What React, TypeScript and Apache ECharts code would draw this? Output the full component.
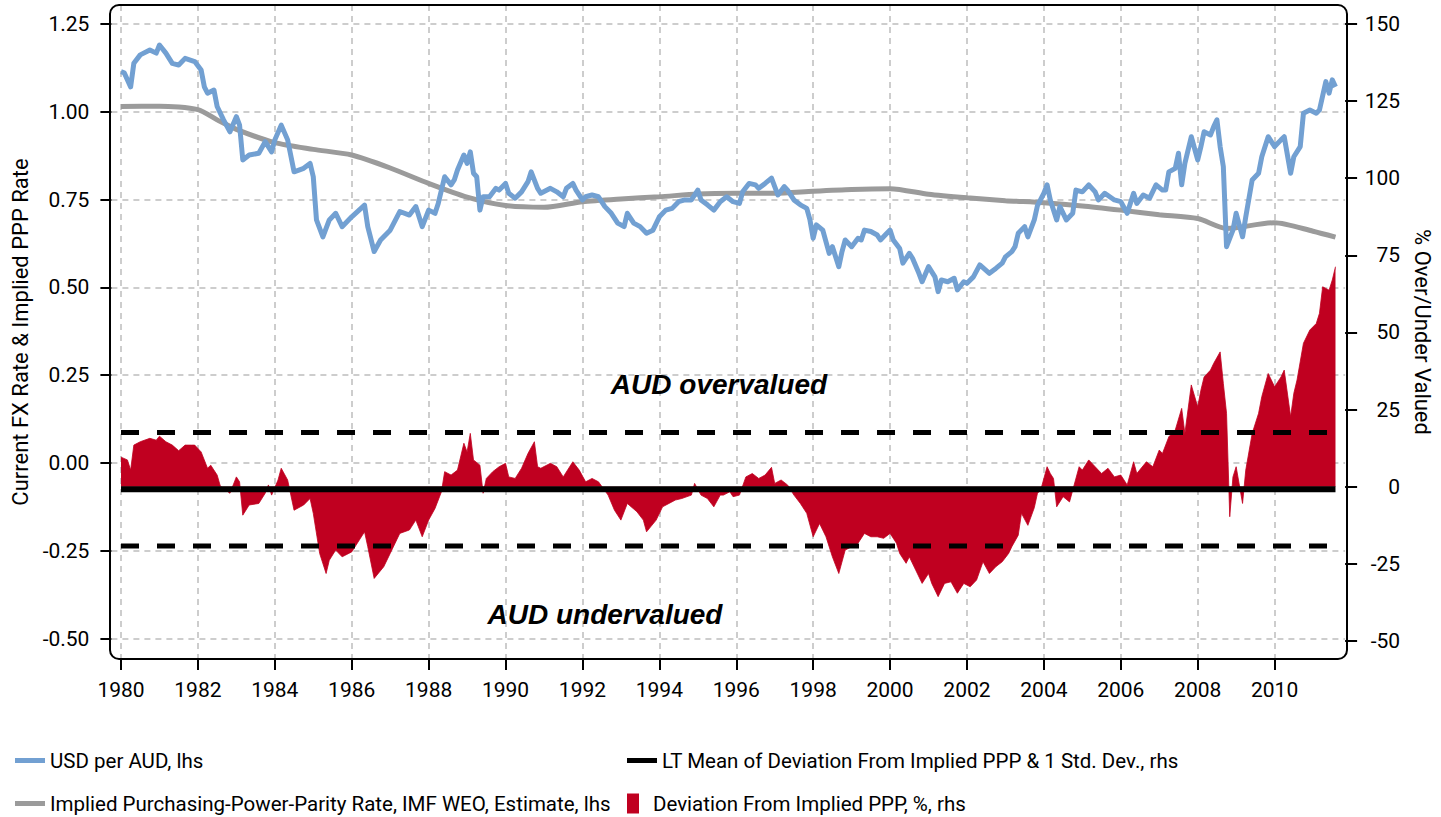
import React, { useEffect, useRef } from "react";
import * as echarts from "echarts";

// ---------- axis set-up (monthly category axis, Oct 1979 .. Nov 2011) ----------
const AXIS_START_YEAR = 1979;
const AXIS_START_MONTH = 10;
const AXIS_END_YEAR = 2011;
const AXIS_END_MONTH = 11;
const LEAD = 3; // months between axis start and Jan 1980

const months: string[] = [];
{
  let y = AXIS_START_YEAR;
  let m = AXIS_START_MONTH;
  while (y < AXIS_END_YEAR || (y === AXIS_END_YEAR && m <= AXIS_END_MONTH)) {
    months.push(`${y}-${String(m).padStart(2, "0")}`);
    m += 1;
    if (m > 12) { m = 1; y += 1; }
  }
}

const leftTicks = [-0.5, -0.25, 0, 0.25, 0.5, 0.75, 1.0, 1.25];
const rightTicks = [-50, -25, 0, 25, 50, 75, 100, 125, 150];

// ---------- data: [months since Jan 1980, value] ----------
const usdPerAud: [number, number][] = [
  [0, 1.114], [1, 1.111], [3, 1.071], [4, 1.138], [6, 1.162], [9, 1.176], [11, 1.167], [12, 1.19],
  [14, 1.167], [16, 1.138], [18, 1.133], [20, 1.152], [23, 1.143], [25, 1.119], [26, 1.071], [27, 1.053],
  [29, 1.062], [30, 1.015], [32, 0.977], [34, 0.943], [36, 0.986], [37, 0.962], [38, 0.863], [40, 0.877],
  [43, 0.882], [45, 0.915], [47, 0.886], [48, 0.92], [50, 0.962], [52, 0.92], [54, 0.829], [57, 0.839],
  [59, 0.853], [60, 0.815], [61, 0.692], [63, 0.644], [65, 0.692], [67, 0.711], [69, 0.673], [72, 0.701],
  [76, 0.734], [77, 0.673], [79, 0.602], [81, 0.635], [84, 0.663], [87, 0.716], [90, 0.706], [92, 0.73],
  [94, 0.673], [96, 0.72], [98, 0.711], [99, 0.739], [101, 0.815], [103, 0.792], [104, 0.806], [105, 0.834],
  [107, 0.877], [108, 0.853], [109, 0.886], [110, 0.825], [111, 0.815], [112, 0.72], [113, 0.758], [115, 0.758],
  [117, 0.782], [118, 0.777], [120, 0.796], [121, 0.768], [123, 0.754], [125, 0.772], [127, 0.801], [128, 0.829],
  [130, 0.782], [131, 0.768], [134, 0.782], [136, 0.772], [138, 0.758], [139, 0.782], [141, 0.796], [142, 0.777],
  [144, 0.749], [145, 0.758], [147, 0.763], [149, 0.758], [151, 0.73], [153, 0.711], [155, 0.683], [157, 0.673],
  [158, 0.711], [160, 0.683], [162, 0.673], [164, 0.654], [166, 0.663], [168, 0.701], [170, 0.72], [172, 0.725],
  [174, 0.744], [176, 0.749], [178, 0.749], [180, 0.777], [181, 0.749], [183, 0.735], [185, 0.72], [187, 0.744],
  [189, 0.758], [191, 0.744], [193, 0.739], [194, 0.772], [196, 0.796], [198, 0.792], [199, 0.782], [201, 0.796],
  [203, 0.811], [204, 0.787], [205, 0.763], [207, 0.787], [208, 0.777], [210, 0.749], [212, 0.735], [214, 0.725],
  [215, 0.692], [216, 0.64], [217, 0.678], [219, 0.663], [221, 0.597], [222, 0.616], [224, 0.559], [225, 0.602],
  [226, 0.635], [228, 0.616], [230, 0.64], [231, 0.635], [232, 0.663], [234, 0.659], [236, 0.649], [237, 0.635],
  [239, 0.654], [240, 0.663], [241, 0.635], [243, 0.611], [244, 0.569], [246, 0.597], [247, 0.583], [249, 0.54],
  [250, 0.516], [252, 0.559], [254, 0.53], [255, 0.488], [256, 0.521], [258, 0.516], [260, 0.526], [261, 0.493],
  [263, 0.516], [264, 0.512], [266, 0.53], [268, 0.564], [271, 0.54], [273, 0.554], [275, 0.569], [276, 0.587],
  [278, 0.602], [279, 0.616], [280, 0.654], [282, 0.673], [283, 0.644], [285, 0.692], [286, 0.733], [288, 0.768],
  [289, 0.792], [290, 0.749], [292, 0.692], [293, 0.73], [295, 0.692], [297, 0.711], [298, 0.777], [300, 0.772],
  [302, 0.792], [304, 0.772], [305, 0.749], [307, 0.768], [310, 0.749], [312, 0.744], [314, 0.711], [316, 0.768],
  [317, 0.739], [319, 0.763], [321, 0.754], [323, 0.792], [325, 0.777], [326, 0.777], [327, 0.829], [329, 0.839],
  [330, 0.882], [331, 0.792], [332, 0.853], [334, 0.929], [336, 0.863], [337, 0.901], [338, 0.943], [340, 0.934],
  [341, 0.958], [342, 0.977], [343, 0.901], [344, 0.844], [345, 0.616], [347, 0.663], [348, 0.711], [350, 0.644],
  [351, 0.701], [353, 0.806], [355, 0.825], [356, 0.872], [358, 0.929], [360, 0.901], [362, 0.92], [363, 0.929],
  [365, 0.825], [366, 0.872], [368, 0.901], [369, 0.996], [371, 1.005], [373, 0.996], [374, 1.005], [376, 1.086],
  [377, 1.053], [378, 1.091], [379, 1.071],
];

const impliedPpp: [number, number][] = [
  [0, 1.015], [12, 1.016], [24, 1.006], [30, 0.977], [36, 0.95], [48, 0.912], [60, 0.893], [72, 0.877],
  [84, 0.84], [96, 0.796], [108, 0.757], [120, 0.733], [132, 0.728], [144, 0.744], [156, 0.752], [168, 0.758],
  [180, 0.766], [192, 0.768], [204, 0.768], [216, 0.774], [228, 0.779], [240, 0.781], [252, 0.765], [264, 0.755],
  [276, 0.747], [288, 0.741], [300, 0.732], [312, 0.72], [324, 0.707], [336, 0.696], [345, 0.668], [348, 0.67],
  [360, 0.684], [372, 0.66], [379, 0.643],
];

const deviationPct: [number, number][] = [
  [0, 9.6], [2, 8.7], [3, 5.4], [4, 13.5], [6, 14.6], [9, 15.7], [11, 15.1], [12, 16.4], [14, 14.6], [16, 13.5],
  [18, 11.7], [20, 13.5], [22, 13.5], [23, 13.5], [25, 11.3], [27, 6.0], [28, 7.0], [30, 3.8], [31, 0.2], [34, -2.1],
  [36, 3.2], [37, 1.6], [38, -9.2], [40, -5.9], [43, -5.4], [45, -2.1], [46, 0.6], [47, -2.7], [49, 2.2], [50, 6.0],
  [52, 2.2], [54, -7.6], [57, -5.9], [59, -3.8], [60, -8.6], [62, -21.6], [64, -28.1], [65, -23.8], [67, -20.5],
  [69, -22.7], [72, -21.1], [76, -14.6], [77, -19.4], [79, -29.7], [82, -25.9], [84, -21.6], [87, -15.1], [90, -14.0],
  [92, -10.8], [94, -16.2], [96, -10.8], [98, -7.0], [100, -1.6], [101, 4.9], [103, 3.8], [105, 5.4], [107, 14.1],
  [108, 11.3], [109, 17.3], [110, 8.7], [112, 7.0], [113, -2.1], [114, 2.7], [116, 4.9], [118, 6.5], [120, 7.6],
  [121, 3.2], [123, 2.7], [125, 6.0], [127, 10.8], [129, 14.6], [130, 6.5], [131, 6.0], [134, 7.6], [136, 6.5],
  [138, 3.2], [141, 8.1], [143, 5.4], [145, 1.6], [147, 2.7], [149, 1.6], [152, -2.7], [154, -7.6], [156, -10.8],
  [158, -5.4], [161, -8.1], [163, -10.8], [164, -14.6], [167, -10.8], [169, -6.5], [171, -5.4], [173, -4.3],
  [175, -3.8], [178, -2.7], [179, 1.1], [181, -2.7], [183, -3.8], [185, -6.5], [187, -2.7], [188, -2.7], [190, -1.6],
  [191, -3.2], [193, -2.7], [195, 3.2], [197, 4.3], [199, 2.7], [201, 3.8], [203, 6.3], [204, 1.1], [206, 2.2],
  [208, 0.6], [210, -2.7], [212, -5.4], [214, -8.6], [216, -16.2], [218, -11.9], [220, -16.2], [222, -22.7],
  [224, -28.1], [226, -20.5], [228, -19.4], [230, -18.3], [232, -15.1], [234, -16.2], [236, -16.2], [238, -16.7],
  [240, -15.1], [242, -18.3], [243, -21.6], [245, -24.8], [246, -22.7], [248, -27.0], [250, -31.3], [252, -28.1],
  [253, -31.3], [255, -35.6], [257, -31.3], [259, -30.8], [261, -34.5], [263, -31.3], [265, -32.4], [267, -30.2],
  [269, -24.3], [271, -28.1], [273, -25.9], [275, -24.3], [277, -21.6], [278, -19.4], [280, -15.7], [281, -8.6],
  [283, -12.5], [285, -6.8], [286, -2.1], [287, -1.1], [289, 6.5], [290, 4.3], [291, 2.7], [292, -6.5], [294, -3.2],
  [296, -4.9], [297, -1.1], [299, 6.5], [300, 5.4], [302, 8.7], [304, 6.5], [306, 4.3], [308, 6.0], [310, 3.2],
  [312, 3.8], [314, 0.6], [316, 8.1], [317, 4.3], [320, 8.1], [322, 6.5], [324, 11.9], [325, 10.8], [327, 16.2],
  [329, 18.4], [331, 25.4], [332, 17.3], [334, 33.0], [336, 25.9], [337, 31.3], [338, 35.6], [340, 37.8], [341, 40.0],
  [343, 43.7], [344, 33.5], [345, 23.8], [346, -9.7], [347, 3.2], [348, 6.5], [350, -5.4], [351, 5.4], [353, 17.3],
  [355, 23.8], [356, 29.2], [358, 36.7], [360, 32.4], [362, 35.6], [363, 37.8], [365, 22.7], [366, 30.3], [367, 34.6],
  [369, 46.5], [371, 50.8], [373, 52.9], [374, 56.2], [375, 64.8], [377, 63.7], [378, 67.0], [379, 71.3],
];

const ltMeanDeviation = -0.8;
const ltPlusOneStd = 17.6;
const ltMinusOneStd = -19.2;
const ltSpan: [number, number] = [0, 379]; // months since Jan 1980

const NAME_FX = "USD per AUD, lhs";
const NAME_PPP = "Implied Purchasing-Power-Parity Rate, IMF WEO, Estimate, lhs";
const NAME_MEAN = "LT Mean of Deviation From Implied PPP & 1 Std. Dev., rhs";
const NAME_DEV = "Deviation From Implied PPP, %, rhs";

const FONT = 'Roboto, "Liberation Sans", sans-serif';

const shift = (arr: [number, number][]) => arr.map(([m, v]) => [m + LEAD, v]);
const flat = (v: number) => [[ltSpan[0] + LEAD, v], [ltSpan[1] + LEAD, v]];

const isEvenJan = (_i: number, val: string) =>
  typeof val === "string" && val.endsWith("-01") && Number(val.slice(0, 4)) % 2 === 0;

const gridDash = { color: "#BDBDBD", width: 1.5, type: [6, 5] as number[] };

const lineIcon = "path://M0 0H30V5H0Z";
const rectIcon = "path://M0 0H12V20H0Z";

const legendAt = (left: number, top: number, name: string, icon: string) => ({
  left,
  top,
  orient: "horizontal",
  itemWidth: 30,
  itemHeight: 20,
  itemGap: 0,
  selectedMode: false,
  itemStyle: { borderWidth: 0 },
  textStyle: { fontSize: 20.5, color: "#000", fontFamily: FONT },
  data: [{ name, icon }],
});

export default function App() {
  const ref = useRef<HTMLDivElement>(null);
  useEffect(() => {
    if (!ref.current) return;
    const chart = echarts.init(ref.current, undefined, { renderer: "svg" });
    chart.setOption({
      animation: false,
      backgroundColor: "#fff",
      textStyle: { fontFamily: FONT, color: "#000" },
      grid: { left: 111.4, top: 5, width: 1236.2, height: 654, containLabel: false },
      xAxis: {
        type: "category",
        data: months,
        boundaryGap: false,
        axisLine: { show: false, onZero: false },
        axisTick: { show: true, interval: isEvenJan, length: 11, lineStyle: { color: "#000", width: 2 } },
        axisLabel: {
          interval: isEvenJan,
          formatter: (v: string) => v.slice(0, 4),
          margin: 20,
          fontSize: 21,
          color: "#000",
          fontFamily: FONT,
        },
        splitLine: { show: true, interval: isEvenJan, lineStyle: gridDash },
      },
      yAxis: [
        {
          type: "value",
          position: "left",
          min: -0.558,
          max: 1.304,
          axisLine: { show: false, onZero: false },
          axisTick: { show: true, customValues: leftTicks, length: 11, lineStyle: { color: "#000", width: 2 } },
          axisLabel: {
            customValues: leftTicks,
            formatter: (v: number) => v.toFixed(2),
            margin: 22,
            fontSize: 21,
            color: "#000",
            fontFamily: FONT,
          },
          splitLine: { show: true, lineStyle: gridDash },
          name: "Current FX Rate & Implied PPP Rate",
          nameLocation: "middle",
          nameGap: 76,
          nameRotate: 90,
          nameTextStyle: { fontSize: 22, color: "#000", fontFamily: FONT },
        },
        {
          type: "value",
          position: "right",
          min: -55.8,
          max: 156.1,
          axisLine: { show: false, onZero: false },
          axisTick: { show: true, customValues: rightTicks, length: 12, lineStyle: { color: "#000", width: 2 } },
          axisLabel: {
            customValues: rightTicks,
            formatter: (v: number) => String(v),
            margin: 55,
            align: "right",
            fontSize: 21,
            color: "#000",
            fontFamily: FONT,
          },
          splitLine: { show: false },
          name: "% Over/Under Valued",
          nameLocation: "middle",
          nameGap: 62,
          nameRotate: -90,
          nameTextStyle: { fontSize: 22, color: "#000", fontFamily: FONT },
        },
      ],
      legend: [
        legendAt(10, 745, NAME_FX, lineIcon),
        legendAt(10, 788, NAME_PPP, lineIcon),
        legendAt(622, 745, NAME_MEAN, lineIcon),
        legendAt(622, 788, NAME_DEV, rectIcon),
      ],
      series: [
        {
          name: NAME_DEV,
          type: "line",
          yAxisIndex: 1,
          data: shift(deviationPct),
          symbol: "none",
          color: "#C00020",
          itemStyle: { color: "#C00020" },
          lineStyle: { width: 0.8, color: "#C00020" },
          areaStyle: { color: "#C00020", opacity: 1 },
          z: 1,
        },
        {
          name: "LT Mean + 1 Std. Dev.",
          type: "line",
          yAxisIndex: 1,
          data: flat(ltPlusOneStd),
          symbol: "none",
          color: "#000",
          lineStyle: { width: 5, color: "#000", type: [18, 18], cap: "butt" },
          z: 2,
        },
        {
          name: "LT Mean - 1 Std. Dev.",
          type: "line",
          yAxisIndex: 1,
          data: flat(ltMinusOneStd),
          symbol: "none",
          color: "#000",
          lineStyle: { width: 5, color: "#000", type: [18, 18], cap: "butt" },
          z: 2,
        },
        {
          name: NAME_MEAN,
          type: "line",
          yAxisIndex: 1,
          data: flat(ltMeanDeviation),
          symbol: "none",
          color: "#000",
          itemStyle: { color: "#000" },
          lineStyle: { width: 6, color: "#000", cap: "butt" },
          z: 3,
        },
        {
          name: NAME_PPP,
          type: "line",
          yAxisIndex: 0,
          data: shift(impliedPpp),
          symbol: "none",
          smooth: 0.25,
          color: "#9B9B9B",
          itemStyle: { color: "#9B9B9B" },
          lineStyle: { width: 5, color: "#9B9B9B" },
          z: 4,
        },
        {
          name: NAME_FX,
          type: "line",
          yAxisIndex: 0,
          data: shift(usdPerAud),
          symbol: "none",
          color: "#72A0D2",
          itemStyle: { color: "#72A0D2" },
          lineStyle: { width: 5, color: "#72A0D2", join: "round" },
          z: 5,
        },
      ],
      graphic: [
        {
          type: "rect",
          silent: true,
          z: 100,
          shape: { x: 110, y: 5, width: 1237, height: 654, r: 9 },
          style: { fill: "none", stroke: "#000", lineWidth: 2 },
        },
        {
          type: "text",
          silent: true,
          z: 100,
          x: 719,
          y: 384,
          style: {
            text: "AUD overvalued",
            fontSize: 28,
            fontWeight: "bold",
            fontStyle: "italic",
            fontFamily: '"Liberation Sans", Arial, sans-serif',
            fill: "#000",
            align: "center",
            verticalAlign: "middle",
          },
        },
        {
          type: "text",
          silent: true,
          z: 100,
          x: 605,
          y: 614,
          style: {
            text: "AUD undervalued",
            fontSize: 28,
            fontWeight: "bold",
            fontStyle: "italic",
            fontFamily: '"Liberation Sans", Arial, sans-serif',
            fill: "#000",
            align: "center",
            verticalAlign: "middle",
          },
        },
      ],
    });
    return () => chart.dispose();
  }, []);
  return (
    <div
      ref={ref}
      style={{ position: "fixed", left: 0, top: 0, width: 1441, height: 817, background: "#fff" }}
    />
  );
}
